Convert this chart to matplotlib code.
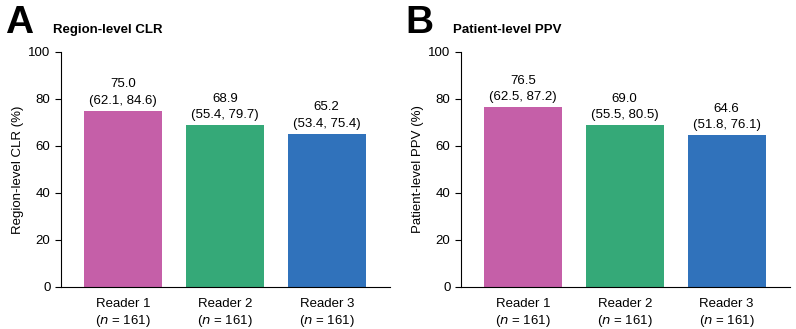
import matplotlib
matplotlib.use("Agg")
import matplotlib.pyplot as plt

plt.rcParams["font.family"] = ["Liberation Sans", "DejaVu Sans"]

readers = ["Reader 1", "Reader 2", "Reader 3"]
n_vals = [161, 161, 161]
colors = ["#C55FA8", "#35A978", "#3072BB"]

clr_vals = [75.0, 68.9, 65.2]
clr_ci = [(62.1, 84.6), (55.4, 79.7), (53.4, 75.4)]

ppv_vals = [76.5, 69.0, 64.6]
ppv_ci = [(62.5, 87.2), (55.5, 80.5), (51.8, 76.1)]

fig = plt.figure(figsize=(7.96, 3.29), dpi=100)

panels = [
    ("A", "Region-level CLR", "Region-level CLR (%)", clr_vals, clr_ci, 0.0766),
    ("B", "Patient-level PPV", "Patient-level PPV (%)", ppv_vals, ppv_ci, 0.579),
]

for letter, title, ylab, vals, ci, left in panels:
    ax = fig.add_axes([left, 0.1277, 0.413, 0.7143])
    x = range(len(readers))
    ax.bar(x, vals, width=0.765, color=colors)
    for xi, v, (lo, hi) in zip(x, vals, ci):
        ax.text(xi, v + 1.8, f"{v:.1f}\n({lo}, {hi})", ha="center", va="bottom",
                fontsize=9.5, linespacing=1.45)
    ax.set_xlim(-0.608, 2.618)
    ax.set_ylim(0, 100)
    ax.set_yticks([0, 20, 40, 60, 80, 100])
    ax.set_xticks(list(x))
    ax.set_xticklabels([f"{r}\n($\\it{{n}}$ = {n})" for r, n in zip(readers, n_vals)],
                       fontsize=9.5, linespacing=1.3)
    ax.tick_params(axis="x", length=0, pad=8)
    ax.tick_params(axis="y", length=4, labelsize=9.5, width=0.8)
    ax.spines["top"].set_visible(False)
    ax.spines["right"].set_visible(False)
    ax.set_ylabel(ylab, fontsize=9.5, labelpad=3)
    fig.text(left - 0.07, 0.9, letter, fontsize=28, fontweight="bold", va="baseline")
    fig.text(left - 0.010, 0.9, title, fontsize=9.5, fontweight="bold", va="baseline")

fig.savefig("out.png", dpi=100)
